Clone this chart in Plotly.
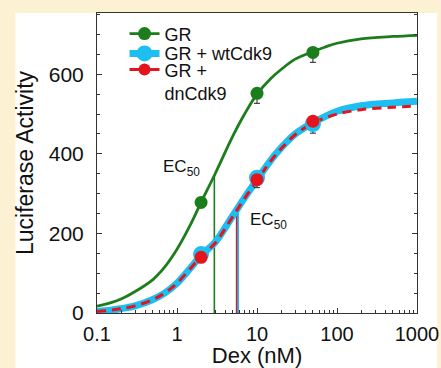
import plotly.graph_objects as go

# ---- data ----
# fitted curves (Dex nM -> luciferase activity)
curve_x = [0.1, 0.15, 0.2, 0.3, 0.5, 0.7, 1, 1.5, 2, 3, 5, 7, 10, 15, 20, 30, 50, 70, 100, 200, 500, 1000]
gr_curve = [17, 26, 35, 54, 84, 115, 160, 225, 278, 350, 445, 500, 550, 590, 612, 638, 657, 668, 678, 689, 695, 698]
wt_curve = [4, 7, 11, 18, 34, 50, 75, 115, 145, 178, 245, 290, 335, 385, 415, 450, 478, 493, 507, 521, 528, 532]
dn_curve = [4, 7, 11, 18, 34, 50, 75, 114, 142, 176, 243, 288, 333, 383, 413, 448, 478, 490, 500, 511, 517, 520]

# measured points
dose = [2, 10, 50]
gr_pts = [278, 552, 655]
wt_pts = [148, 340, 475]
dn_pts = [140, 335, 482]
gr_err = [8, 25, 25]
wt_err = [8, 25, 23]

# EC50 markers
ec50_gr = 2.93
ec50_gr_top = 348
ec50_wt = 5.75
ec50_dn = 5.55
ec50_cdk_top = 265

x_tickvals = [0.1, 1, 10, 100, 1000]
x_ticktext = ["0.1", "1", "10", "100", "1000"]
x_minor = [m * d for d in [0.1, 1, 10, 100] for m in range(2, 10)]
y_tickvals = [0, 200, 400, 600]
y_minor = [v for v in range(50, 751, 50) if v % 200 != 0]

GREEN = "#1C7D1C"
BLUE = "#1DBEF2"
RED = "#E5141C"
CREAM = "#FDF1D3"
FONT = "Liberation Sans, Arial, sans-serif"

fig = go.Figure()

# EC50 vertical lines
fig.add_trace(go.Scatter(x=[ec50_gr, ec50_gr], y=[0, ec50_gr_top], mode="lines",
                         line=dict(color=GREEN, width=1.6), showlegend=False, hoverinfo="skip"))
fig.add_trace(go.Scatter(x=[ec50_wt, ec50_wt], y=[0, ec50_cdk_top], mode="lines",
                         line=dict(color=BLUE, width=2.5), showlegend=False, hoverinfo="skip"))
fig.add_trace(go.Scatter(x=[ec50_dn, ec50_dn], y=[0, ec50_cdk_top], mode="lines",
                         line=dict(color=RED, width=1.4), showlegend=False, hoverinfo="skip"))

# curves
fig.add_trace(go.Scatter(x=curve_x, y=wt_curve, mode="lines", line=dict(color=BLUE, width=7, shape="spline"),
                         showlegend=False, hoverinfo="skip"))
fig.add_trace(go.Scatter(x=curve_x, y=dn_curve, mode="lines",
                         line=dict(color=RED, width=3, dash="9px,6px", shape="spline"),
                         showlegend=False, hoverinfo="skip"))
fig.add_trace(go.Scatter(x=curve_x, y=gr_curve, mode="lines", line=dict(color=GREEN, width=2.8, shape="spline"),
                         showlegend=False, hoverinfo="skip"))

# points
fig.add_trace(go.Scatter(x=dose, y=wt_pts, mode="markers", marker=dict(color=BLUE, size=16),
                         error_y=dict(type="data", symmetric=False, array=[0, 0, 0], arrayminus=wt_err,
                                      color="#222", thickness=1, width=3),
                         showlegend=False))
fig.add_trace(go.Scatter(x=dose, y=dn_pts, mode="markers", marker=dict(color=RED, size=13),
                         showlegend=False))
fig.add_trace(go.Scatter(x=dose, y=gr_pts, mode="markers", marker=dict(color=GREEN, size=13),
                         error_y=dict(type="data", symmetric=False, array=[0, 0, 0], arrayminus=gr_err,
                                      color="#222", thickness=1, width=3),
                         showlegend=False))

# legend-only entries (one legend each, so spacing can follow the reference)
fig.add_trace(go.Scatter(x=[None], y=[None], mode="lines+markers", name="GR", legend="legend",
                         line=dict(color=GREEN, width=2.8), marker=dict(color=GREEN, size=13)))
fig.add_trace(go.Scatter(x=[None], y=[None], mode="lines+markers", name="GR + wtCdk9", legend="legend2",
                         line=dict(color=BLUE, width=7), marker=dict(color=BLUE, size=16)))
fig.add_trace(go.Scatter(x=[None], y=[None], mode="lines+markers", name="GR +<br>dnCdk9", legend="legend3",
                         line=dict(color=RED, width=3), marker=dict(color=RED, size=12)))

fig.add_annotation(x=0.053, y=365, xref="x", yref="y", text="EC<sub>50</sub>", showarrow=False,
                   font=dict(family=FONT, size=17, color="#111"), xanchor="center", yanchor="middle")
fig.add_annotation(x=1.138, y=230, xref="x", yref="y", text="EC<sub>50</sub>", showarrow=False,
                   font=dict(family=FONT, size=17, color="#111"), xanchor="center", yanchor="middle")

# white panel behind the chart
fig.add_shape(type="rect", xref="paper", yref="paper", x0=-0.255, x1=1.063, y0=-0.2, y1=1.0,
              fillcolor="white", line=dict(width=0), layer="below")

leg_common = dict(x=0.086, xanchor="left", yanchor="top", bgcolor="rgba(0,0,0,0)",
                  font=dict(family=FONT, size=18, color="#111"), valign="top")

fig.update_layout(
    width=441, height=368,
    margin=dict(l=97, r=24, t=13, b=55, autoexpand=False),
    paper_bgcolor=CREAM, plot_bgcolor="white",
    font=dict(family=FONT, color="#111"),
    showlegend=True,
    legend=dict(y=0.992, **leg_common),
    legend2=dict(y=0.926, **leg_common),
    legend3=dict(y=0.872, **leg_common),
    xaxis=dict(type="log", range=[-1, 3], showline=True, linecolor="#333", linewidth=1, mirror=True,
               tickmode="array", tickvals=x_tickvals, ticktext=x_ticktext, ticks="inside",
               ticklen=5, tickcolor="#333", showgrid=False, zeroline=False, automargin=False,
               tickfont=dict(family=FONT, size=20, color="#111"), ticklabelstandoff=3,
               ticklabeloverflow="allow",
               minor=dict(tickmode="array", tickvals=x_minor, ticks="inside", ticklen=3, tickcolor="#333",
                          showgrid=False),
               title=dict(text="Dex (nM)", font=dict(family=FONT, size=22, color="#111"), standoff=0)),
    yaxis=dict(range=[0, 754], showline=True, linecolor="#333", linewidth=1, mirror="ticks",
               tickmode="array", tickvals=y_tickvals, ticks="inside", ticklen=5, tickcolor="#333",
               showgrid=False, zeroline=False, automargin=False,
               tickfont=dict(family=FONT, size=21, color="#111"), ticklabelstandoff=8,
               ticklabeloverflow="allow",
               minor=dict(tickmode="array", tickvals=y_minor, ticks="inside", ticklen=3, tickcolor="#333",
                          showgrid=False),
               title=dict(text="Luciferase Activity", font=dict(family=FONT, size=23, color="#111"), standoff=8)),
)

fig.write_html("out.html", config={"displayModeBar": False},
               post_script="document.body.style.margin='0';document.body.style.overflow='hidden';")
